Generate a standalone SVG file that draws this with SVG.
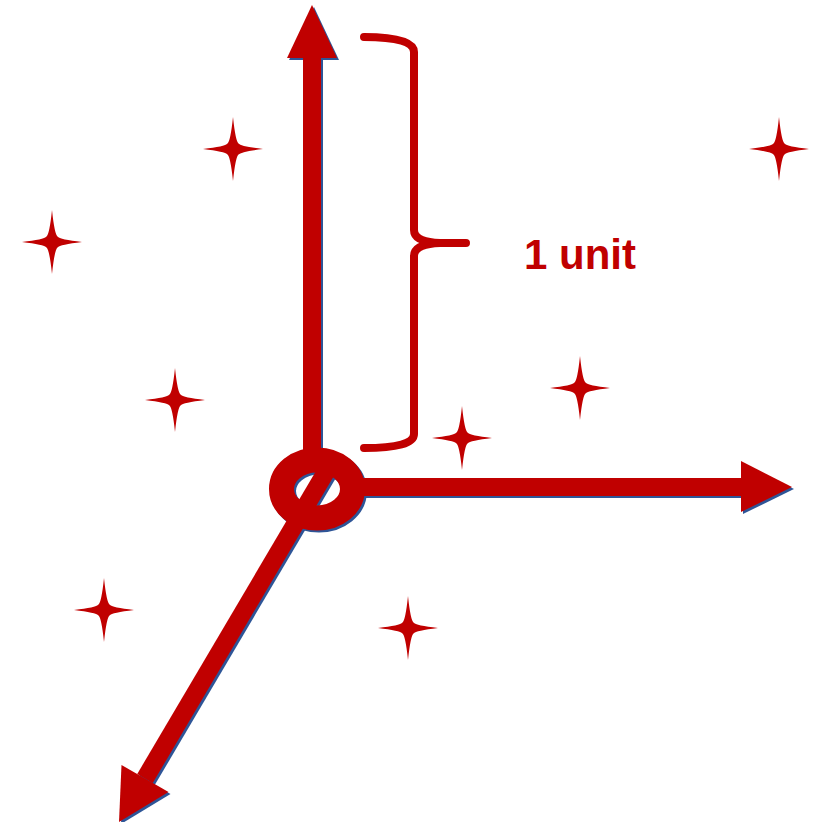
<svg xmlns="http://www.w3.org/2000/svg" xmlns:xlink="http://www.w3.org/1999/xlink" width="818" height="822" viewBox="0 0 818 822">
  <style>
    .star { fill: #C00000; }
    .brace { fill: none; stroke: #C00000; stroke-width: 8; stroke-linecap: round; stroke-linejoin: round; }
    .label { font-family: "Liberation Sans", Arial, sans-serif; font-weight: bold; font-size: 42px; fill: #C00000; }
  </style>
  <defs>
    <path id="starShape" d="M0,-32 Q2.5,-8 5.5,-5.5 Q8,-2.5 30,0 Q8,2.5 5.5,5.5 Q2.5,8 0,32 Q-2.5,8 -5.5,5.5 Q-8,2.5 -30,0 Q-8,-2.5 -5.5,-5.5 Q-2.5,-8 0,-32 Z"/>
    <g id="axesShape">
      <polygon stroke="none" points="303,56 321,56 321,455 303,455"/>
      <polygon stroke="none" points="312,5 337,58 287,58"/>
      <polygon stroke="none" points="355,478 743,478 743,496 355,496"/>
      <polygon stroke="none" points="741,461 792,487 741,512"/>
      <polygon stroke="none" points="334.75,474.57 152.75,783.07 137.25,773.93 319.25,465.43"/>
      <polygon stroke="none" points="119,822 121.5,765 168.5,792"/>
      <ellipse cx="317" cy="489" rx="35.5" ry="29" fill="none" stroke-width="25"/>
    </g>
  </defs>
  <rect width="818" height="822" fill="#FFFFFF"/>

  <g id="stars">
    <use xlink:href="#starShape" class="star" transform="translate(233,149)"/>
    <use xlink:href="#starShape" class="star" transform="translate(52,242)"/>
    <use xlink:href="#starShape" class="star" transform="translate(779,149)"/>
    <use xlink:href="#starShape" class="star" transform="translate(580,388)"/>
    <use xlink:href="#starShape" class="star" transform="translate(175,400)"/>
    <use xlink:href="#starShape" class="star" transform="translate(462,438)"/>
    <use xlink:href="#starShape" class="star" transform="translate(104,610)"/>
    <use xlink:href="#starShape" class="star" transform="translate(408,628)"/>
  </g>

  <g id="axes">
    <use xlink:href="#axesShape" fill="#2E5597" stroke="#2E5597" transform="translate(2,2)"/>
    <use xlink:href="#axesShape" fill="#C00000" stroke="#C00000"/>
  </g>

  <g id="brace">
    <path class="brace" d="M364,37 Q414,37 414,52 L414,230 Q414,242 440,243 L466,243 M440,243 Q414,244 414,256 L414,434 Q414,448 364,448"/>
  </g>

  <g id="unit-label">
    <text class="label" x="524" y="269">1 unit</text>
  </g>
</svg>
